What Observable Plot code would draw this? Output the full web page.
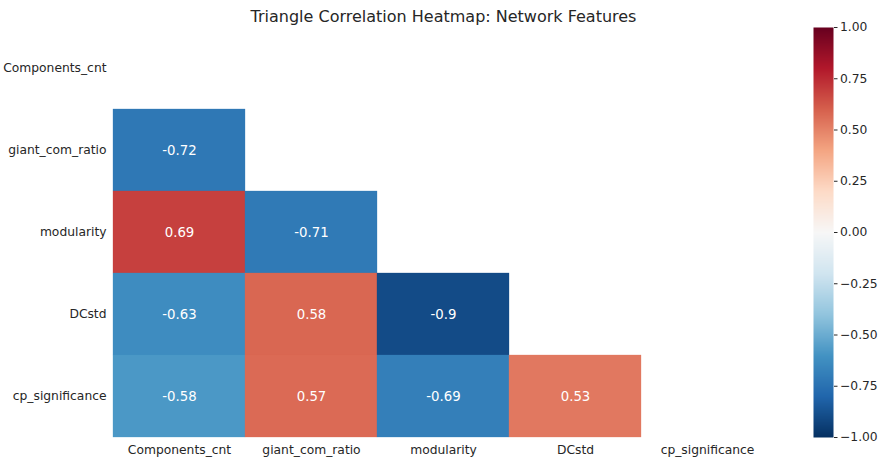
<!DOCTYPE html>
<html>
<head>
<meta charset="utf-8">
<script src="https://cdn.jsdelivr.net/npm/d3@7"></script>
<script src="https://cdn.jsdelivr.net/npm/@observablehq/plot@0.6"></script>
<style>
  html, body { margin: 0; padding: 0; background: white; }
  #chart { position: relative; width: 880px; height: 461px; }
  #chart svg { position: absolute; left: 0; top: 0; }
</style>
</head>
<body>
<div id="chart"></div>
<script>
const title = "Triangle Correlation Heatmap: Network Features";
const features = ["Components_cnt", "giant_com_ratio", "modularity", "DCstd", "cp_significance"];
// lower triangle of the correlation matrix (row i, columns 0..i-1)
const rowGiantComRatio = [-0.72];
const rowModularity = [0.69, -0.71];
const rowDCstd = [-0.63, 0.58, -0.9];
const rowCpSignificance = [-0.58, 0.57, -0.69, 0.53];
const colorbarTicks = [-1, -0.75, -0.5, -0.25, 0, 0.25, 0.5, 0.75, 1];
// RdBu_r stops
const rdbuStops = ["#053061", "#2166ac", "#4393c3", "#92c5de", "#d1e5f0", "#f7f7f7", "#fddbc7", "#f4a582", "#d6604d", "#b2182b", "#67001f"];
const rdbuDomain = [-1, -0.8, -0.6, -0.4, -0.2, 0, 0.2, 0.4, 0.6, 0.8, 1];

const rows = [[], rowGiantComRatio, rowModularity, rowDCstd, rowCpSignificance];
const cells = [];
rows.forEach((vals, i) => vals.forEach((v, j) => cells.push({row: features[i], col: features[j], value: v})));

const colorOpts = {type: "linear", domain: rdbuDomain, range: rdbuStops, interpolate: "rgb"};
const font = "DejaVu Sans, sans-serif";
const ink = "#262626";

const main = Plot.plot({
  width: 880, height: 461,
  marginLeft: 113, marginRight: 107, marginTop: 27, marginBottom: 24,
  x: {domain: features, padding: 0, label: null, tickSize: 0, tickPadding: 8},
  y: {domain: features, padding: 0, label: null, tickSize: 0, tickPadding: 7},
  color: colorOpts,
  style: {fontFamily: font, fontSize: "12.3px", color: ink, background: "white"},
  marks: [
    Plot.cell(cells, {x: "col", y: "row", fill: "value", stroke: "value", strokeWidth: 0.3, inset: 0}),
    Plot.text(cells, {x: "col", y: "row", text: d => String(d.value), fill: "white", fontSize: 13.3}),
    Plot.text([title], {text: d => d, frameAnchor: "top", dy: -17, fontSize: 16, fill: ink})
  ]
});

const bar = Plot.plot({
  width: 880, height: 461,
  marginLeft: 813, marginRight: 47, marginTop: 27, marginBottom: 24,
  x: {domain: [0, 1], axis: null},
  y: {domain: [-1, 1], axis: "right", ticks: colorbarTicks, tickFormat: ".2f", tickSize: 3.5, tickPadding: 3, label: null},
  color: colorOpts,
  style: {fontFamily: font, fontSize: "12.3px", color: ink, background: "transparent"},
  marks: [
    Plot.raster({fill: (x, y) => y, x1: 0, x2: 1, y1: -1, y2: 1, width: 1, height: 410})
  ]
});

document.getElementById("chart").append(main, bar);
</script>
</body>
</html>
